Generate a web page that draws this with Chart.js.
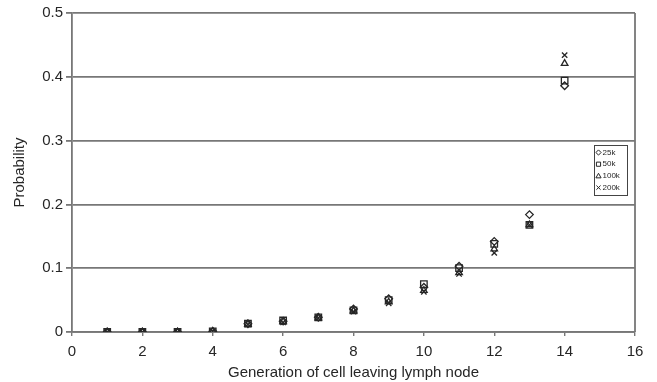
<!DOCTYPE html>
<html>
<head>
<meta charset="utf-8">
<script src="https://cdn.jsdelivr.net/npm/chart.js@4/dist/chart.umd.min.js"></script>
<style>
  html, body { margin: 0; padding: 0; background: #fff; }
  #wrap { position: relative; width: 657px; height: 382px; }
</style>
</head>
<body>
<div id="wrap"><canvas id="probChart"></canvas></div>
<script>
// generation number of the cell leaving the lymph node
const generations = [1, 2, 3, 4, 5, 6, 7, 8, 9, 10, 11, 12, 13, 14];

// probability per generation, one list per population size
const p25k  = [0, 0, 0, 0.001, 0.013, 0.017, 0.023, 0.036, 0.052, 0.070, 0.103, 0.142, 0.184, 0.386];
const p50k  = [0, 0, 0, 0.001, 0.013, 0.018, 0.023, 0.034, 0.050, 0.075, 0.100, 0.138, 0.168, 0.394];
const p100k = [0, 0, 0, 0.001, 0.012, 0.016, 0.022, 0.033, 0.047, 0.065, 0.093, 0.130, 0.168, 0.421];
const p200k = [0, 0, 0, 0.001, 0.012, 0.015, 0.022, 0.032, 0.045, 0.063, 0.091, 0.124, 0.168, 0.434];

const seriesLabels = ["25k", "50k", "100k", "200k"];
const seriesStyles = ["rectRot", "rect", "triangle", "crossRot"];
const xTicks = [0, 2, 4, 6, 8, 10, 12, 14, 16];
const yTicks = [0, 0.1, 0.2, 0.3, 0.4, 0.5];

const ink = "#262626";
const lineGray = "#777";
const font = "'Liberation Sans', Arial, sans-serif";

function points(values) {
    return generations.map((g, i) => ({ x: g, y: values[i] }));
}

function makeSet(label, values, style) {
    return {
        label: label,
        data: points(values),
        pointStyle: style,
        pointRadius: style === "rect" ? 4.6 : 3.8,
        pointBorderWidth: 1.3,
        pointBorderColor: ink,
        pointBackgroundColor: "rgba(255,255,255,0)",
        showLine: false
    };
}

// small marker paths for the legend box
function drawMarker(ctx, style, x, y, r) {
    ctx.beginPath();
    if (style === "rectRot") {
        ctx.moveTo(x, y - r); ctx.lineTo(x + r, y); ctx.lineTo(x, y + r); ctx.lineTo(x - r, y); ctx.closePath();
    } else if (style === "rect") {
        ctx.rect(x - r * 0.8, y - r * 0.8, r * 1.6, r * 1.6);
    } else if (style === "triangle") {
        ctx.moveTo(x, y - r); ctx.lineTo(x + r, y + r * 0.75); ctx.lineTo(x - r, y + r * 0.75); ctx.closePath();
    } else {
        ctx.moveTo(x - r * 0.8, y - r * 0.8); ctx.lineTo(x + r * 0.8, y + r * 0.8);
        ctx.moveTo(x + r * 0.8, y - r * 0.8); ctx.lineTo(x - r * 0.8, y + r * 0.8);
    }
    ctx.stroke();
}

// legend box sitting inside the plot, right side
const legendBox = {
    id: "legendBox",
    afterDatasetsDraw(chart) {
        const { ctx, chartArea } = chart;
        const left = chartArea.right - 41;
        const top = chartArea.top + 132;
        ctx.save();
        ctx.fillStyle = "#fff";
        ctx.fillRect(left, top, 33, 50);
        ctx.strokeStyle = "#444";
        ctx.lineWidth = 1;
        ctx.strokeRect(left + 0.5, top + 0.5, 33, 50);
        ctx.font = "8px " + font;
        ctx.textBaseline = "middle";
        ctx.fillStyle = ink;
        seriesLabels.forEach((lab, i) => {
            const cy = top + 7.5 + i * 11.7;
            ctx.strokeStyle = ink;
            drawMarker(ctx, seriesStyles[i], left + 4.5, cy, 2.6);
            ctx.fillText(lab, left + 8.5, cy);
        });
        ctx.restore();
    }
};

// right edge of the plot frame
const frame = {
    id: "frame",
    afterDraw(chart) {
        const { ctx, chartArea } = chart;
        ctx.save();
        ctx.strokeStyle = lineGray;
        ctx.lineWidth = 1.8;
        ctx.beginPath();
        ctx.moveTo(chartArea.right, chartArea.top);
        ctx.lineTo(chartArea.right, chartArea.bottom);
        ctx.stroke();
        ctx.restore();
    }
};

new Chart(document.getElementById("probChart"), {
    type: "scatter",
    data: {
        datasets: [
            makeSet(seriesLabels[0], p25k, seriesStyles[0]),
            makeSet(seriesLabels[1], p50k, seriesStyles[1]),
            makeSet(seriesLabels[2], p100k, seriesStyles[2]),
            makeSet(seriesLabels[3], p200k, seriesStyles[3])
        ]
    },
    options: {
        responsive: true,
        maintainAspectRatio: false,
        animation: false,
        layout: { padding: { left: 0, right: 22, top: 13, bottom: 0 } },
        plugins: {
            legend: { display: false },
            tooltip: { enabled: false }
        },
        scales: {
            x: {
                type: "linear",
                min: 0,
                max: 16,
                afterBuildTicks: (scale) => { scale.ticks = xTicks.map(v => ({ value: v })); },
                afterFit: (scale) => { scale.height = 50; },
                border: { color: lineGray, width: 1.8 },
                grid: { drawOnChartArea: false, tickColor: lineGray, tickLength: 4, lineWidth: 1.4 },
                ticks: { color: ink, font: { family: font, size: 15 }, padding: 7, maxRotation: 0 },
                title: {
                    display: true,
                    text: "Generation of cell leaving lymph node",
                    color: ink,
                    font: { family: font, size: 15 },
                    padding: { top: 0, bottom: 0 }
                }
            },
            y: {
                min: 0,
                max: 0.5,
                afterBuildTicks: (scale) => { scale.ticks = yTicks.map(v => ({ value: v })); },
                afterFit: (scale) => { scale.width = 72; },
                border: { color: lineGray, width: 1.8 },
                grid: { color: lineGray, lineWidth: 1.8, tickLength: 6, tickColor: lineGray },
                ticks: {
                    color: ink,
                    font: { family: font, size: 15 },
                    padding: 3,
                    callback: (v) => (v === 0 ? "0" : v.toFixed(1))
                },
                title: {
                    display: true,
                    text: "Probability",
                    color: ink,
                    font: { family: font, size: 15 },
                    padding: { top: 11, bottom: 0 }
                }
            }
        }
    },
    plugins: [legendBox, frame]
});
</script>
</body>
</html>
